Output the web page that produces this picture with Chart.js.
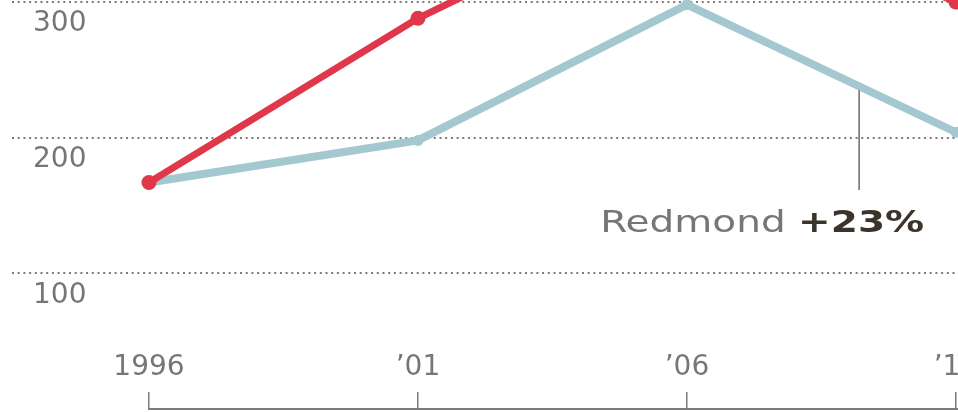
<!DOCTYPE html>
<html>
<head>
<meta charset="utf-8">
<script src="https://cdn.jsdelivr.net/npm/chart.js@4"></script>
<style>
  html, body { margin: 0; padding: 0; background: #fff; }
  #wrap { width: 958px; height: 412px; position: relative; }
</style>
</head>
<body>
<div id="wrap"><canvas id="chart"></canvas></div>
<script>
// =========================
// DATA
// =========================
const years = [1996, 2001, 2006, 2011];
const otherValues = [167, 288, 384, 300];
const redmondValues = [167, 198, 298, 204];
const yTicks = [0, 100, 200, 300];
const xTickLabels = ["1996", "\u201901", "\u201906", "\u201911"];

const annotYear = 2009.2;
const annotName = "Redmond ";
const annotChange = "+23%";

const RED = "#e0384a";
const BLUE = "#a4c8d0";
const TEXT = "#767676";

// =========================
// PLUGINS
// =========================
const baseline = {
  id: "baseline",
  afterDraw(chart) {
    const { ctx, scales: { x }, chartArea } = chart;
    ctx.save();
    ctx.strokeStyle = "#7a7a7a";
    ctx.lineWidth = 2;
    ctx.beginPath();
    ctx.moveTo(x.getPixelForValue(years[0]) - 1, chartArea.bottom);
    ctx.lineTo(chart.width, chartArea.bottom);
    ctx.stroke();
    ctx.restore();
  }
};

const annotation = {
  id: "annotation",
  afterDatasetsDraw(chart) {
    const { ctx, scales: { x, y } } = chart;
    // position of the pointer on the Redmond line
    const i = years.findIndex(v => v > annotYear);
    const t = (annotYear - years[i - 1]) / (years[i] - years[i - 1]);
    const val = redmondValues[i - 1] + t * (redmondValues[i] - redmondValues[i - 1]);
    const px = x.getPixelForValue(annotYear);
    const py = y.getPixelForValue(val);

    ctx.save();
    ctx.strokeStyle = "#6a6a6a";
    ctx.lineWidth = 1.5;
    ctx.beginPath();
    ctx.moveTo(px, py + 4);
    ctx.lineTo(px, 190);
    ctx.stroke();

    const sx = 1.3;
    ctx.font = "30px 'DejaVu Sans'";
    const w1 = ctx.measureText(annotName).width;
    ctx.font = "bold 30px 'DejaVu Sans'";
    const w2 = ctx.measureText(annotChange).width;
    const right = px + 65;
    const left = right - (w1 + w2) * sx;
    ctx.translate(left, 232);
    ctx.scale(sx, 1);
    ctx.textBaseline = "alphabetic";
    ctx.fillStyle = TEXT;
    ctx.font = "30px 'DejaVu Sans'";
    ctx.fillText(annotName, 0, 0);
    ctx.fillStyle = "#3a342a";
    ctx.font = "bold 30px 'DejaVu Sans'";
    ctx.fillText(annotChange, w1, 0);
    ctx.restore();
  }
};

function noPad(s) {
  s.paddingTop = 0;
  s.paddingBottom = 0;
  s.paddingLeft = 0;
  s.paddingRight = 0;
}

// =========================
// CHART
// =========================
const ctx = document.getElementById("chart").getContext("2d");

new Chart(ctx, {
  type: "line",
  data: {
    datasets: [
      {
        label: "Other",
        data: years.map((yr, i) => ({ x: yr, y: otherValues[i] })),
        borderColor: RED,
        backgroundColor: RED,
        borderWidth: 7,
        pointRadius: 7.5,
        pointBorderWidth: 0,
        clip: false
      },
      {
        label: "Redmond",
        data: years.map((yr, i) => ({ x: yr, y: redmondValues[i] })),
        borderColor: BLUE,
        backgroundColor: BLUE,
        borderWidth: 8,
        pointRadius: 5.5,
        pointBorderWidth: 0,
        clip: false
      }
    ]
  },
  options: {
    responsive: true,
    maintainAspectRatio: false,
    animation: false,
    layout: { autoPadding: false, padding: { top: 2, left: 0, right: 0, bottom: 0 } },
    plugins: {
      legend: { display: false },
      tooltip: { enabled: false }
    },
    scales: {
      x: {
        type: "linear",
        min: 1993.454,
        max: 2011.038,
        afterBuildTicks: s => { s.ticks = years.map(v => ({ value: v })); },
        afterFit: s => { s.height = 3; noPad(s); },
        border: { display: false },
        grid: {
          drawOnChartArea: false,
          drawTicks: true,
          tickLength: -17,
          color: "#7a7a7a",
          lineWidth: 1.5
        },
        ticks: {
          mirror: true,
          padding: 24,
          autoSkip: false,
          maxRotation: 0,
          color: TEXT,
          font: { family: "DejaVu Sans", size: 28 },
          callback: (v) => xTickLabels[years.indexOf(v)]
        }
      },
      y: {
        min: 0,
        max: 300,
        afterBuildTicks: s => { s.ticks = yTicks.map(v => ({ value: v })); },
        afterFit: s => { s.width = 12; noPad(s); },
        border: { display: false, dash: [2, 3.7] },
        grid: {
          drawTicks: false,
          lineWidth: 2,
          color: c => (c.tick && c.tick.value === 0 ? "rgba(0,0,0,0)" : "#7c7c73")
        },
        ticks: {
          mirror: true,
          padding: 21,
          labelOffset: 22,
          color: TEXT,
          font: { family: "DejaVu Sans", size: 28 },
          callback: v => (v === 0 ? "" : String(v))
        }
      }
    }
  },
  plugins: [baseline, annotation]
});
</script>
</body>
</html>
